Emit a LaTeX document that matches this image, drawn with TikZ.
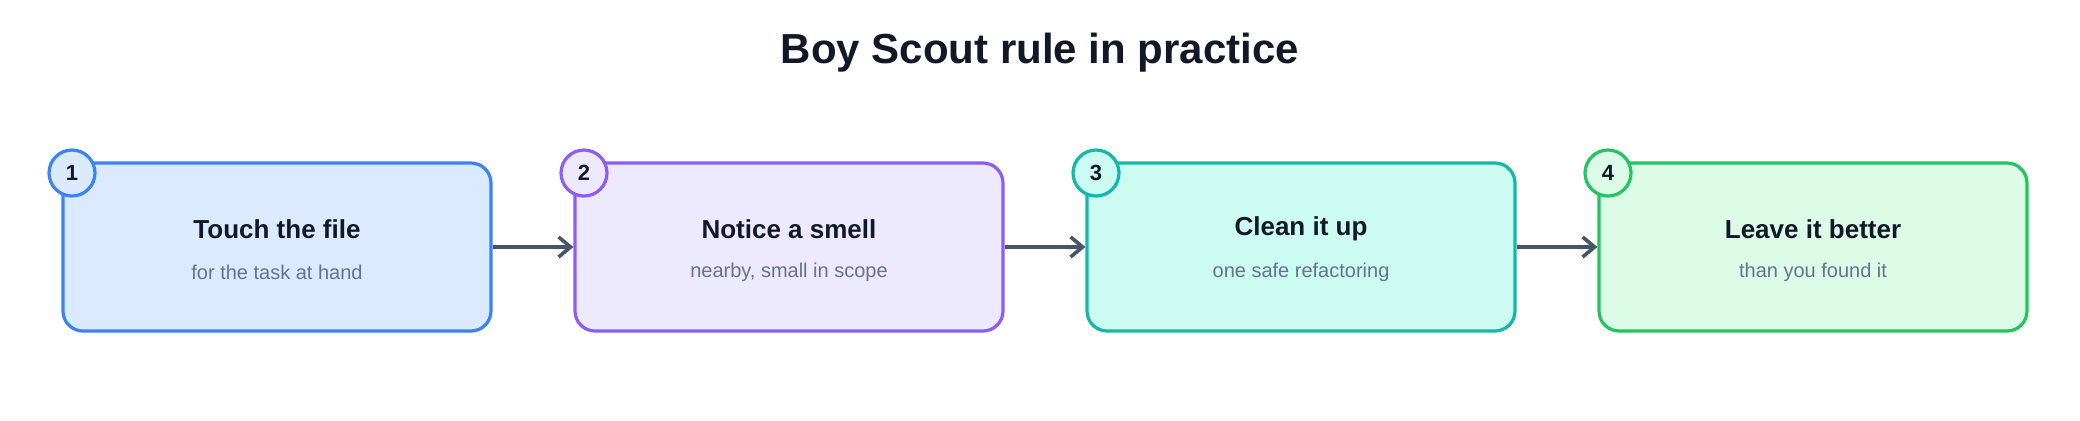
\documentclass[tikz,border=0pt]{standalone}
\usepackage{fontspec}
\setmainfont{Liberation Sans}
\usetikzlibrary{arrows.meta}
\definecolor{ink}{HTML}{111827}
\definecolor{subink}{HTML}{64748B}
\definecolor{arrowink}{HTML}{475569}
\definecolor{blueline}{HTML}{3B82F6}\definecolor{bluefill}{HTML}{DBEAFE}
\definecolor{purpleline}{HTML}{8B5CF6}\definecolor{purplefill}{HTML}{EDE9FE}
\definecolor{tealline}{HTML}{14B8A6}\definecolor{tealfill}{HTML}{CCFBF1}
\definecolor{greenline}{HTML}{22C55E}\definecolor{greenfill}{HTML}{DCFCE7}
\begin{document}
\begin{tikzpicture}[x=0.5pt,y=-0.5pt,
      stagebox/.style ={rectangle, rounded corners=10pt, line width=1.6pt, minimum width=214pt, minimum height=84pt},
      badge/.style ={circle, line width=1.6pt, minimum size=23pt, inner sep=0pt, font=\bfseries\fontsize{11}{11}\selectfont, text=ink},
      head/.style ={font=\bfseries\fontsize{13}{13}\selectfont, text=ink},
      note/.style ={font=\fontsize{10}{10}\selectfont, text=subink},
      flow/.style ={-{Straight Barb[length=6pt,width=10pt]}, line width=1.8pt, draw=arrowink}]
   \useasboundingbox (0,0) rectangle (2080,420);
   \node[font=\bfseries\fontsize{21}{21}\selectfont, text=ink] (title) at (1040,53) {Boy Scout rule in practice};
   % the four steps
   \foreach \i/\c/\h/\s in {1/blue/Touch the file/for the task at hand,
                             2/purple/Notice a smell/{nearby, small in scope},
                             3/teal/Clean it up/one safe refactoring,
                             4/green/Leave it better/than you found it} {
      \node[stagebox, draw=\c line, fill=\c fill] (box\i) at ({277+512*(\i-1)},247) {};
      \node[head] (head\i) at ({277+512*(\i-1)},229) {\h};
      \node[note] (note\i) at ({277+512*(\i-1)},272) {\s};
      \node[badge, draw=\c line, fill=\c fill] (num\i) at ({72+512*(\i-1)},173) {\i};
   }
   \draw[flow] (box1) -- (box2);
   \draw[flow] (box2) -- (box3);
   \draw[flow] (box3) -- (box4);
\end{tikzpicture}
\end{document}
